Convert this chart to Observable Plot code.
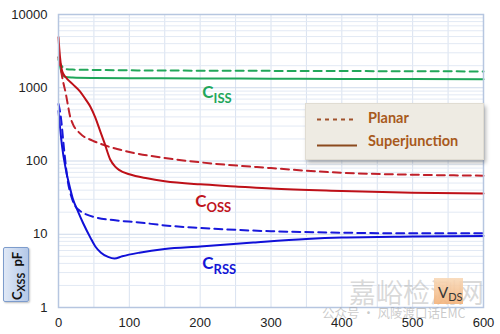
<!DOCTYPE html>
<html><head><meta charset="utf-8">
<script src="https://cdn.jsdelivr.net/npm/d3@7"></script>
<script src="https://cdn.jsdelivr.net/npm/@observablehq/plot@0.6"></script>
<style>
body{margin:0;background:#fff;}
#wrap{position:relative;width:500px;height:334px;overflow:hidden;font-family:"Liberation Sans",Arial,sans-serif;}
#wrap svg{position:absolute;left:0;top:0;}
.legend{position:absolute;left:305px;top:103px;width:177px;height:55px;background:#eeebe3;border:1px solid #e0dcd2;box-shadow:2px 3px 4px rgba(0,0,0,0.28);font-family:Lato,"Open Sans",sans-serif;font-weight:700;font-size:14.5px;color:#a85a1c;}
.legend .t{position:absolute;left:62px;}
.ylab{position:absolute;left:3px;top:247px;width:26px;height:55px;box-sizing:border-box;border:1px solid #7d9ccc;border-radius:2px;background:linear-gradient(to right,#dfe8f6,#b4c8e8);box-shadow:1px 1px 2px rgba(0,0,0,0.25);}
.ylab span{position:absolute;left:-14.5px;top:14.5px;width:55px;height:26px;line-height:24px;text-align:center;transform:rotate(-90deg);font-family:Lato,sans-serif;font-weight:700;font-size:13px;color:#111;white-space:nowrap;}
.vds{position:absolute;left:434px;top:278px;width:29px;height:26px;background:linear-gradient(#f9d9b8,#f3b27a);opacity:0.9;}
.vds span{position:absolute;left:4px;top:5px;font-family:Lato,sans-serif;font-size:15px;color:#222;white-space:nowrap;}
.wm1{position:absolute;left:349px;top:272px;font-family:"Noto Sans CJK SC",sans-serif;font-size:27px;color:rgba(170,170,170,0.45);letter-spacing:0px;white-space:nowrap;}
.wm2{position:absolute;left:322px;top:303px;font-family:"Noto Sans CJK SC",sans-serif;font-size:12.5px;color:rgba(150,150,150,0.5);white-space:nowrap;}
</style></head><body><div id="wrap"></div>
<script>
// ---- data (VDS in V, capacitance in pF) ----
const xTicks = [0,100,200,300,400,500,600];
const yTicks = [1,10,100,1000,10000];
const xGrid = [50,100,150,200,250,300,350,400,450,500,550];
const yMinor = [2,3,4,5,6,7,8,9,20,30,40,50,60,70,80,90,200,300,400,500,600,700,800,900,2000,3000,4000,5000,6000,7000,8000,9000];

const cissSJ_v = [0,3,6,10,20,50,100,200,300,400,500,600];
const cissSJ_c = [2600,1800,1500,1400,1380,1360,1350,1340,1330,1320,1315,1305];
const cissPl_v = [0,3,6,10,20,50,100,200,300,400,500,600];
const cissPl_c = [2400,2100,1900,1800,1770,1750,1730,1710,1700,1690,1680,1670];

const cossSJ_v = [0,1,3,5,10,20,30,38,45,52,58,65,73,80,86,100,125,150,200,250,300,400,500,600];
const cossSJ_c = [4900,3500,2200,1700,1400,1120,900,700,550,390,270,175,105,84,75,66,58,53,48,45,42,39,37,36];
const cossPl_v = [0,3,7,10,13,16,20,30,48,62,100,150,200,300,400,500,600];
const cossPl_c = [2600,1830,1150,860,600,420,325,240,190,168,133,110,96,80,69,65,63];

const crssSJ_v = [0,2,5,10,15,20,27,35,45,52,60,70,79,90,114,150,200,275,350,400,500,600];
const crssSJ_c = [480,300,160,80,48,31,21,14,9,6.8,5.6,4.9,4.65,5.0,5.6,6.3,6.8,7.7,8.6,9.0,9.3,9.5];
const crssPl_v = [0,3,8,13,18,24,30,40,52,80,114,150,200,300,400,500,600];
const crssPl_c = [600,420,140,54,33,24,21,18.5,17,15.5,14.5,13.2,12.2,11,10.5,10.3,10.3];

const labelNames = ["C|ISS","C|OSS","C|RSS"];
const labelX = [203,193,203];
const labelY = [736,23.9,3.4];
const labelColors = ["#1fa65a","#c0141c","#1414d6"];

const legendNames = ["Planar","Superjunction"];

// ---- build ----
const series = [
  {v:cissPl_v,c:cissPl_c,color:"#22a75a",dash:"8,5"},
  {v:cissSJ_v,c:cissSJ_c,color:"#1fa65a",dash:null},
  {v:cossPl_v,c:cossPl_c,color:"#c0202a",dash:"8,5"},
  {v:cossSJ_v,c:cossSJ_c,color:"#be1018",dash:null},
  {v:crssPl_v,c:crssPl_c,color:"#1818dc",dash:"8,5"},
  {v:crssSJ_v,c:crssSJ_c,color:"#1010d8",dash:null}
];
const lineMarks = series.map(s => Plot.line(s.v.map((v,i)=>({v, c:s.c[i]})), {
  x:"v", y:"c", stroke:s.color, strokeWidth:2, strokeDasharray:s.dash || undefined, curve:"monotone-x"
}));
const labelRows = labelNames.map((n,i)=>({n, x:labelX[i], y:labelY[i], color:labelColors[i]}));

const chart = Plot.plot({
  width:500, height:334,
  marginLeft:58, marginRight:17, marginTop:14, marginBottom:27,
  style:{fontFamily:"'Liberation Sans', Arial, sans-serif", fontSize:"13px", color:"#222", background:"transparent", overflow:"visible"},
  x:{domain:[0,600], ticks:xTicks, tickSize:0, tickPadding:10, label:null, tickFormat:d=>String(d)},
  y:{type:"log", domain:[1,10000], ticks:yTicks, tickSize:0, tickPadding:11, label:null, tickFormat:d=>String(d)},
  marks:[
    Plot.ruleX(xGrid,{stroke:"#d9e2f0", strokeWidth:1}),
    Plot.ruleY(yMinor,{stroke:"#e2e9f4", strokeWidth:1}),
    Plot.ruleY(yTicks,{stroke:"#cdd9ea", strokeWidth:1}),
    ...lineMarks,
    Plot.frame({stroke:"#b6c6e0", strokeWidth:1.5}),
    Plot.text(labelRows,{x:"x", y:"y", text:"n", fill:"color", textAnchor:"start", lineAnchor:"bottom", fontSize:17, fontWeight:700, fontFamily:"Lato, 'Open Sans', sans-serif"})
  ]
});

// subscripts
d3.select(chart).selectAll("text").each(function(){
  const t = this.textContent;
  if (t.includes("|")) {
    const [a,b] = t.split("|");
    const sel = d3.select(this);
    sel.selectAll("*").remove();
    sel.text(null);
    sel.append("tspan").text(a);
    sel.append("tspan").attr("dy",5).attr("font-size",13).text(b);
  }
});

const wrap = document.getElementById("wrap");
wrap.appendChild(chart);

// legend
const lg = document.createElement("div");
lg.className = "legend";
lg.innerHTML = `
<svg width="60" height="55" style="position:absolute;left:0;top:0">
  <line x1="11" x2="50" y1="15.5" y2="15.5" stroke="#a0522d" stroke-width="2" stroke-dasharray="4,4"/>
  <line x1="11" x2="51" y1="41.5" y2="41.5" stroke="#8b4a1e" stroke-width="2"/>
</svg>
<div class="t" style="top:5px">${legendNames[0]}</div>
<div class="t" style="top:28px">${legendNames[1]}</div>`;
wrap.appendChild(lg);

// y label box
const yl = document.createElement("div");
yl.className = "ylab";
yl.innerHTML = `<span>C<tspan style="font-size:10.5px;position:relative;top:3px">XSS</tspan>&nbsp;&nbsp;pF</span>`;
wrap.appendChild(yl);

// watermark
const w1 = document.createElement("div"); w1.className="wm1"; w1.textContent="嘉峪检测网"; wrap.appendChild(w1);

// VDS box
const vb = document.createElement("div");
vb.className = "vds";
vb.innerHTML = `<span>V<span style="position:relative;left:0;top:3px;font-size:11px">DS</span></span>`;
wrap.appendChild(vb);

const w2 = document.createElement("div"); w2.className="wm2"; w2.textContent="公众号 · 风陵渡口话EMC"; wrap.appendChild(w2);
</script></body></html>
